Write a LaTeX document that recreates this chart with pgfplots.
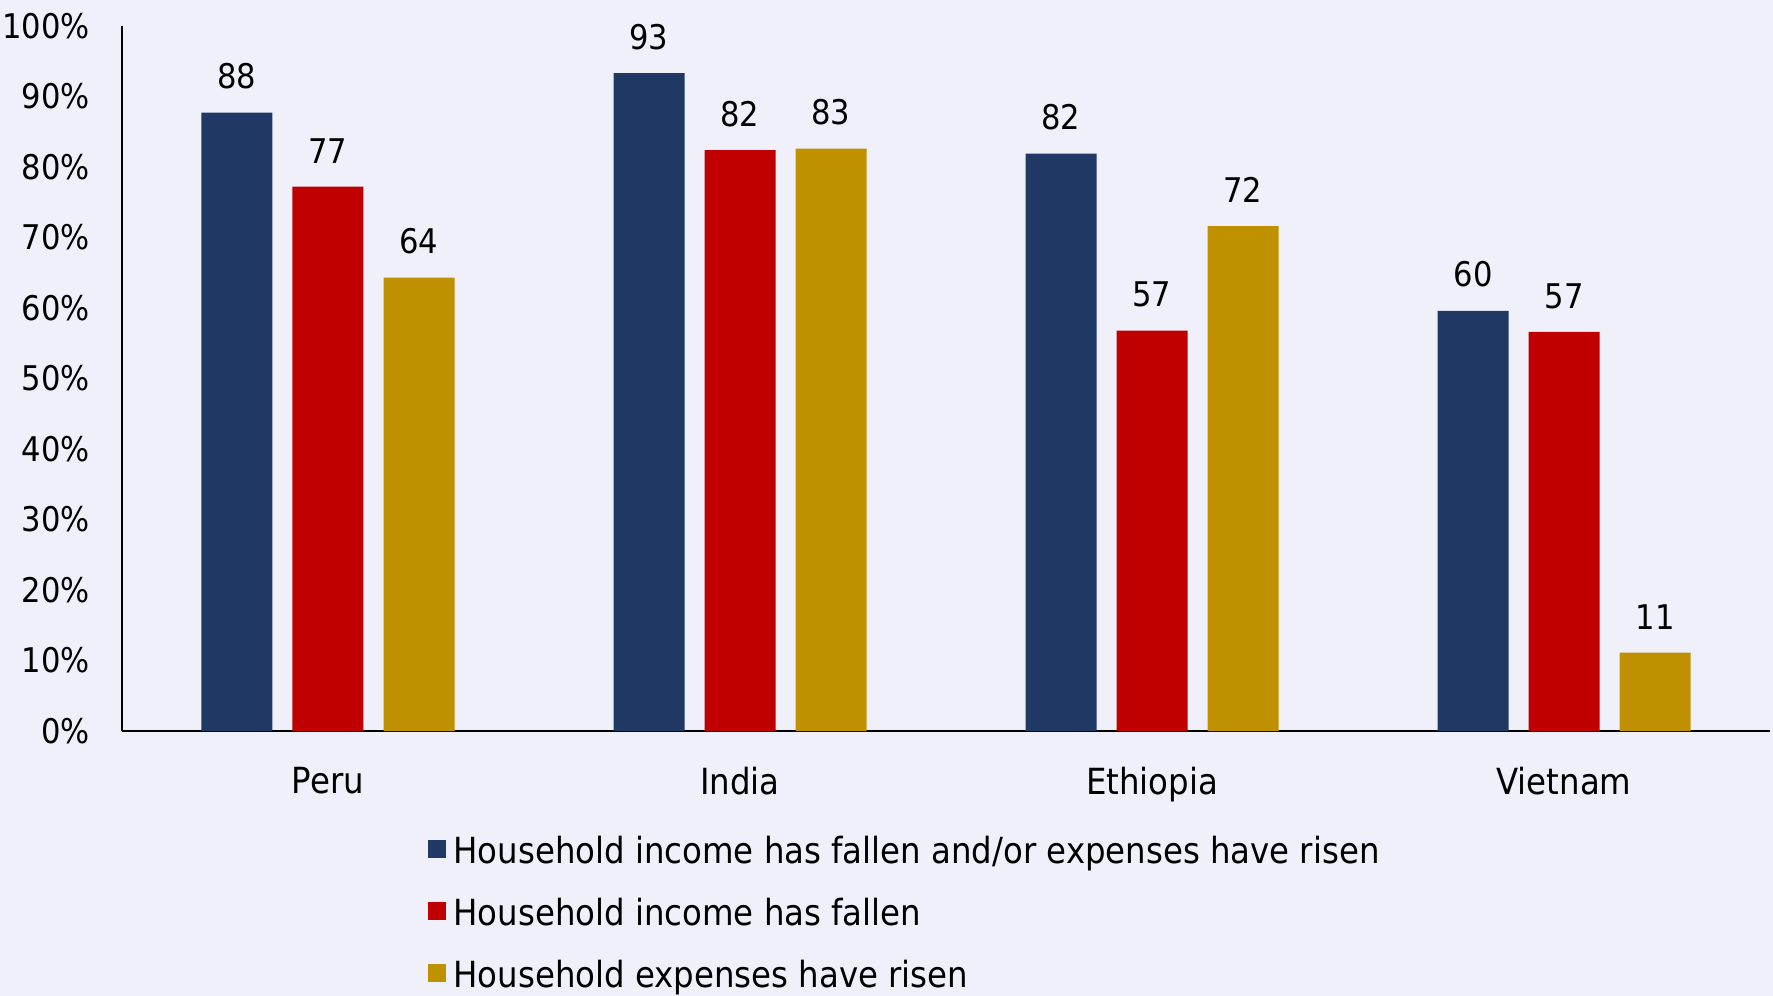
\documentclass[border=0pt]{standalone}
\usepackage{fontspec}
\setmainfont{DejaVu Sans Condensed}
\usepackage{pgfplots}
\pgfplotsset{compat=1.18}
\definecolor{bg}{RGB}{239,240,250}
\definecolor{cnavy}{RGB}{32,56,100}
\definecolor{cred}{RGB}{192,0,0}
\definecolor{cgold}{RGB}{191,144,0}
\begin{document}
\fontsize{17}{20}\selectfont
\begin{tikzpicture}
\path[use as bounding box, fill=bg] (-61pt,-132.5pt) rectangle (825.5pt,365.5pt);
\begin{axis}[
  scale only axis, width=824pt, height=352.5pt,
  ymin=0, ymax=100, xmin=-0.5, xmax=3.5,
  ybar=10pt, bar width=35.5pt,
  legend image code/.code={\fill[#1] (0pt,-3.5pt) rectangle (9pt,5.5pt);},
  axis x line*=bottom, axis y line*=left,
  axis line style={line width=0.7pt, -, black},
  xtick={0,1,2,3}, xticklabels={Peru,India,Ethiopia,Vietnam},
  ytick={0,10,...,100},
  yticklabel={\pgfmathprintnumber{\tick}\%},
  major tick length=0pt,
  /pgf/number format/assume math mode=true,
  tick label style={text=black},
  yticklabel style={anchor=east, inner sep=0pt, xshift=-16pt, font=\fontsize{17}{20}\selectfont},
  xticklabel style={anchor=north, inner sep=0pt, yshift=-18pt, font=\fontsize{18}{21}\selectfont},
  point meta=explicit symbolic,
  nodes near coords={\pgfplotspointmeta},
  every node near coord/.append style={anchor=south, inner sep=0pt, yshift=11.5pt, text=black, font=\fontsize{17}{20}\selectfont},
  legend style={at={(0.1854,-0.1458)}, anchor=north west, draw=none, fill=none,
    inner sep=0pt, outer sep=0pt, row sep=13.85pt, column sep=4pt,
    nodes={inner sep=0pt, outer sep=0pt}, font=\fontsize{18}{21}\selectfont},
  legend cell align=left,
]
\addplot[fill=cnavy, draw=none] table[meta=l] {
x y l
0 87.7 88
1 93.3 93
2 81.9 82
3 59.6 60
};
\addplot[fill=cred, draw=none] table[meta=l] {
x y l
0 77.2 77
1 82.4 82
2 56.8 57
3 56.6 57
};
\addplot[fill=cgold, draw=none] table[meta=l] {
x y l
0 64.3 64
1 82.6 83
2 71.6 72
3 11.1 11
};
\legend{\strut Household income has fallen and/or expenses have risen, \strut Household income has fallen, \strut Household expenses have risen}
\end{axis}
\end{tikzpicture}
\end{document}
